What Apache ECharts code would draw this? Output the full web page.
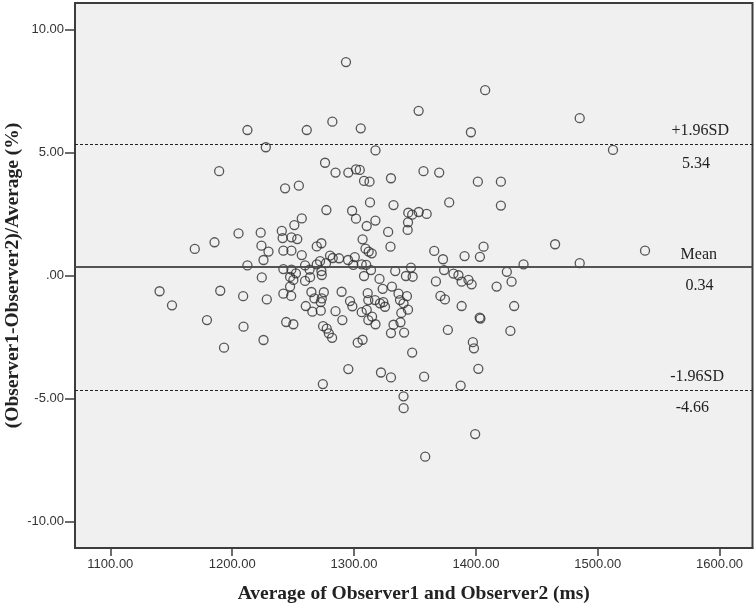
<!DOCTYPE html>
<html>
<head>
<meta charset="utf-8">
<script src="https://cdn.jsdelivr.net/npm/echarts@6/dist/echarts.min.js"></script>
<style>
html,body{margin:0;padding:0;background:#fff;}
#chart{width:756px;height:604px;}
</style>
</head>
<body>
<div id="chart"></div>
<script>
// Average of Observer1 and Observer2 (ms)
const avgMs = [
1293.4,1407.6,1353.0,1485.2,1282.2,1305.5,1212.5,1261.2,1395.9,1227.6,
1317.6,1512.5,1276.2,1301.6,1304.7,1189.3,1357.0,1284.8,1295.3,1369.9,
1330.3,1308.2,1312.7,1401.6,1420.5,1243.4,1254.7,1313.1,1378.1,1332.4,
1420.5,1277.3,1298.4,1344.5,1347.7,1353.1,1359.6,1301.6,1257.1,1317.5,
1344.3,1251.0,1310.4,1344.0,1328.0,1240.7,1205.2,1223.4,1241.4,1248.6,
1253.4,1307.0,1185.5,1224.0,1269.4,1273.2,1309.4,1312.0,1314.5,1169.3,
1229.8,1242.0,1248.6,1257.1,1329.9,1365.8,1465.0,1538.8,1373.0,1390.7,
1403.3,1406.3,1225.7,1280.3,1282.5,1287.7,1272.1,1277.0,1295.1,1300.6,
1306.3,1310.0,1212.5,1259.8,1269.4,1439.1,1485.2,1346.7,1333.8,1242.0,
1248.6,1252.3,1263.5,1273.2,1313.9,1373.9,1381.6,1385.7,1425.4,1273.5,
1299.4,1224.3,1247.5,1250.2,1259.8,1263.9,1308.2,1320.9,1342.6,1348.1,
1367.2,1388.3,1393.9,1396.5,1429.3,1417.0,1323.5,1331.1,1247.5,1140.4,
1190.2,1209.0,1228.4,1242.0,1248.4,1265.0,1275.2,1289.8,1311.2,1336.5,
1343.4,1370.9,1374.6,1267.5,1273.5,1337.7,1340.6,1324.0,1325.4,1311.7,
1317.2,1321.3,1296.7,1298.6,1272.7,1260.4,1265.8,1272.7,1284.8,1290.4,
1306.3,1310.4,1314.8,1311.7,1317.6,1344.3,1338.8,1338.1,1332.4,1330.3,
1341.1,1347.7,1322.1,1330.3,1357.5,1388.3,1431.4,1403.1,1403.7,1377.0,
1428.3,1397.5,1398.4,1402.0,1387.5,1340.6,1340.7,1399.4,1358.4,1150.6,
1179.3,1209.3,1193.3,1225.7,1244.3,1250.2,1274.6,1277.6,1279.3,1282.0,
1303.0,1307.0,1295.3,1274.4
];
// (Observer1-Observer2)/Average (%)
const diffPct = [
8.67,7.53,6.69,6.39,6.25,5.98,5.91,5.91,5.82,5.21,
5.08,5.10,4.58,4.31,4.29,4.24,4.24,4.18,4.18,4.18,
3.95,3.84,3.81,3.81,3.81,3.54,3.65,2.97,2.97,2.86,
2.84,2.66,2.63,2.55,2.47,2.58,2.50,2.31,2.32,2.23,
2.16,2.05,2.01,1.85,1.77,1.81,1.71,1.74,1.52,1.55,
1.48,1.47,1.35,1.21,1.18,1.31,1.09,0.97,0.90,1.08,
0.97,1.01,1.01,0.83,1.17,1.00,1.27,1.01,0.66,0.79,
0.76,1.17,0.63,0.81,0.71,0.70,0.58,0.50,0.63,0.75,
0.45,0.43,0.41,0.41,0.45,0.45,0.50,0.32,0.18,0.26,
0.24,0.09,0.24,0.18,0.22,0.22,0.08,0.01,0.15,0.02,
0.43,-0.08,-0.06,-0.18,-0.22,-0.07,-0.02,-0.14,-0.02,-0.05,
-0.24,-0.25,-0.18,-0.36,-0.25,-0.45,-0.54,-0.45,-0.45,-0.64,
-0.62,-0.84,-0.97,-0.74,-0.83,-0.67,-0.68,-0.66,-0.72,-0.74,
-0.84,-0.83,-0.97,-0.93,-0.93,-1.00,-1.13,-1.08,-1.27,-1.00,
-1.00,-1.13,-1.04,-1.25,-1.08,-1.24,-1.47,-1.43,-1.45,-1.81,
-1.49,-1.40,-1.67,-1.81,-1.98,-1.39,-1.52,-1.90,-2.00,-2.34,
-2.32,-3.13,-3.94,-4.14,-4.11,-1.24,-1.24,-1.71,-1.75,-2.21,
-2.25,-2.71,-2.96,-3.79,-4.47,-4.91,-5.39,-6.44,-7.36,-1.21,
-1.81,-2.08,-2.93,-2.62,-1.89,-1.98,-2.06,-2.16,-2.35,-2.53,
-2.73,-2.61,-3.80,-4.41
];
const xTicks = [1100, 1200, 1300, 1400, 1500, 1600];
const yTicks = [-10, -5, 0, 5, 10];
const meanValue = 0.34;
const upperLimit = 5.34;
const lowerLimit = -4.66;
const lineNames = ['Mean', '+1.96SD', '-1.96SD'];

const points = avgMs.map((x, i) => [x, diffPct[i]]);
const serif = '"Liberation Serif", "Times New Roman", serif';
const sans = '"Liberation Sans", Arial, sans-serif';
const axisColor = '#3c3c3c';

function lineLabel(text, pos, dist) {
  return { show: true, formatter: text, position: pos, distance: dist,
    fontFamily: serif, fontSize: 16, color: '#222', lineHeight: 16 };
}

const chart = echarts.init(document.getElementById('chart'), null, {renderer: 'canvas'});
chart.setOption({
  animation: false,
  backgroundColor: '#ffffff',
  grid: { left: 75, right: 3.5, top: 3, bottom: 56, show: true, containLabel: false,
    outerBoundsMode: 'none',
    backgroundColor: '#f0f0f0', borderColor: axisColor, borderWidth: 2 },
  xAxis: {
    type: 'value', min: 1071, max: 1627, position: 'bottom',
    name: 'Average of Observer1 and Observer2 (ms)',
    nameLocation: 'middle', nameGap: 36, nameMoveOverlap: false,
    nameTextStyle: { fontFamily: serif, fontWeight: 'bold', fontSize: 19.5, color: '#222' },
    axisLine: { show: true, onZero: false, lineStyle: { color: axisColor, width: 2 } },
    splitLine: { show: false },
    axisTick: { show: true, inside: false, customValues: xTicks, length: 8, lineStyle: { color: axisColor, width: 1.5 } },
    axisLabel: { customValues: xTicks, margin: 10, fontFamily: sans, fontSize: 13, color: '#333',
      formatter: v => v.toFixed(2) }
  },
  yAxis: {
    type: 'value', min: -11.07, max: 11.07,
    name: '(Observer1-Observer2)/Average (%)',
    nameLocation: 'middle', nameGap: 52, nameRotate: 90, nameMoveOverlap: false,
    nameTextStyle: { fontFamily: serif, fontWeight: 'bold', fontSize: 19.5, color: '#222' },
    axisLine: { show: true, onZero: false, lineStyle: { color: axisColor, width: 2 } },
    splitLine: { show: false },
    axisTick: { show: true, inside: false, customValues: yTicks, length: 10, lineStyle: { color: axisColor, width: 1.5 } },
    axisLabel: { customValues: yTicks, margin: 11, fontFamily: sans, fontSize: 13, color: '#333',
      formatter: v => (v === 0 ? '.00' : v.toFixed(2)) }
  },
  series: [{
    type: 'scatter',
    data: points,
    symbol: 'circle',
    symbolSize: 9,
    itemStyle: { color: 'rgba(0,0,0,0)', borderColor: '#2e2e2e', borderWidth: 1.3 },
    markLine: {
      silent: true,
      symbol: ['none', 'none'],
      animation: false,
      data: [
        { yAxis: meanValue, lineStyle: { type: 'solid', color: '#4a4a4a', width: 1.6 },
          label: lineLabel(lineNames[0], 'insideEndTop', [35.5, 4.7]) },
        { yAxis: meanValue, lineStyle: { type: 'solid', color: '#4a4a4a', width: 1.6 },
          label: lineLabel(meanValue.toFixed(2), 'insideEndBottom', [39, 10.3]) },
        { yAxis: upperLimit, lineStyle: { type: [3, 2], color: '#222', width: 1.2 },
          label: lineLabel(lineNames[1], 'insideEndTop', [23.5, 5]) },
        { yAxis: upperLimit, lineStyle: { type: [3, 2], color: '#222', width: 1.2 },
          label: lineLabel(upperLimit.toFixed(2), 'insideEndBottom', [42.5, 11.7]) },
        { yAxis: lowerLimit, lineStyle: { type: [3, 2], color: '#222', width: 1.2 },
          label: lineLabel(lineNames[2], 'insideEndTop', [28.5, 5.3]) },
        { yAxis: lowerLimit, lineStyle: { type: [3, 2], color: '#222', width: 1.2 },
          label: lineLabel(lowerLimit.toFixed(2), 'insideEndBottom', [43.5, 9.3]) }
      ]
    }
  }]
});
</script>
</body>
</html>
